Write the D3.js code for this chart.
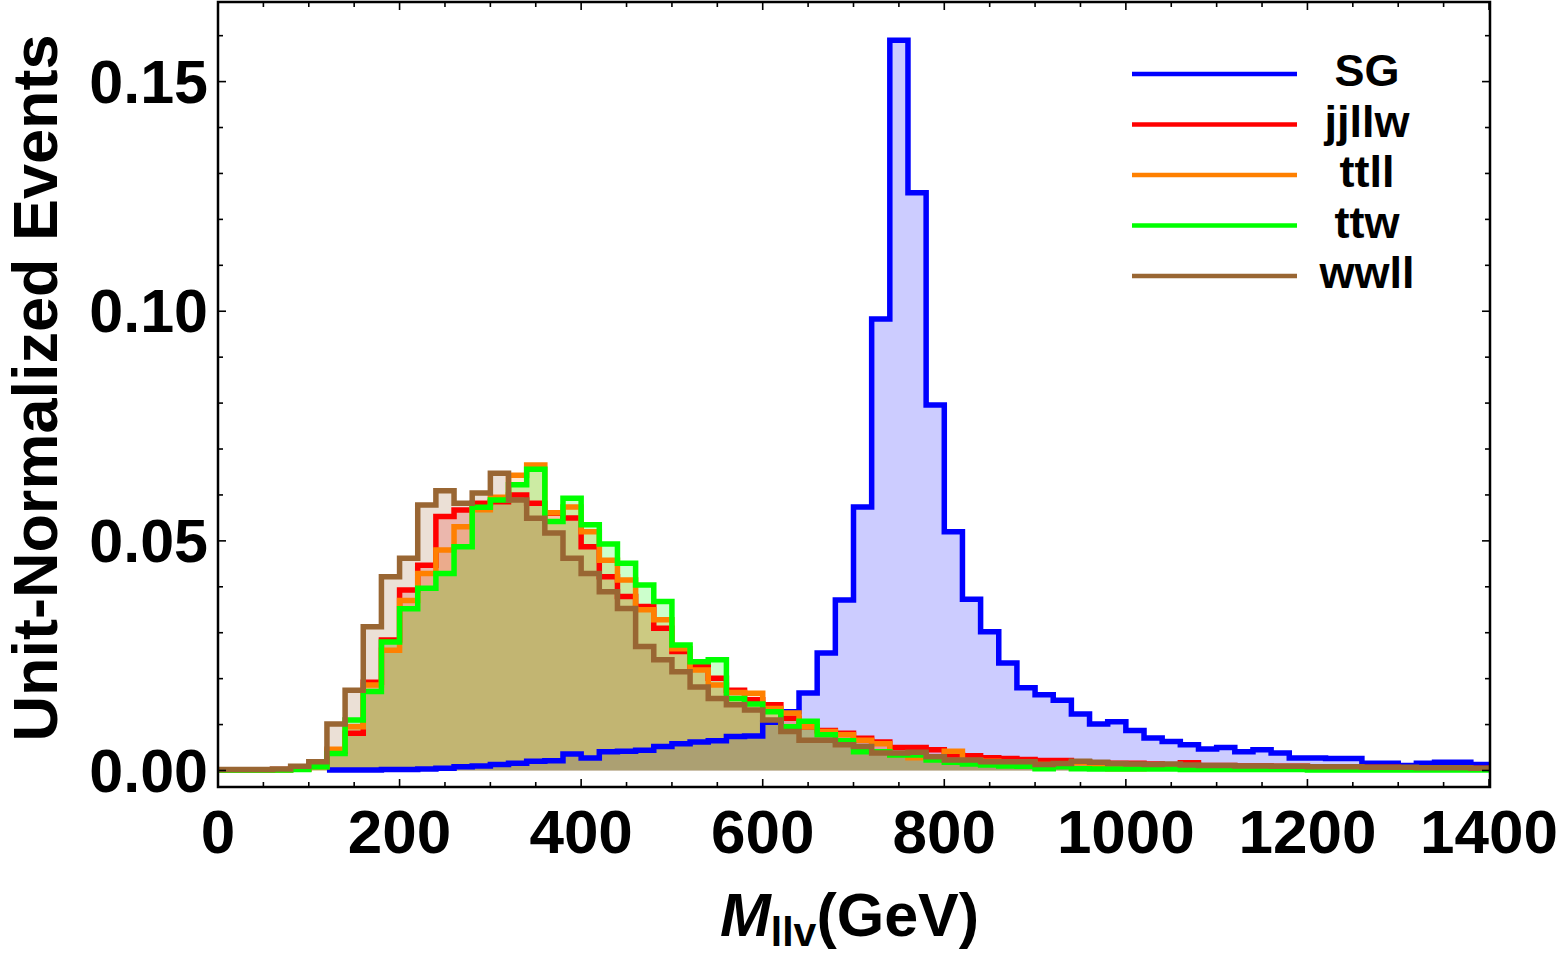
<!DOCTYPE html>
<html>
<head>
<meta charset="utf-8">
<script src="https://cdn.jsdelivr.net/npm/d3@7"></script>
<style>
  body { margin: 0; background: #fff; }
  text { font-family: "Liberation Sans", Arial, sans-serif; font-weight: bold; }
</style>
</head>
<body>
<div id="chart-area"></div>
<script>
/*
*    M_llv histograms
*/
var binWidth = 20;
var binStarts = d3.range(0, 1400, binWidth);

var sgValues = [null, null, null, null, null, null,
  0.0001, 0.0001, 0.0001, 0.0002, 0.0002, 0.0003, 0.0005, 0.0008, 0.0010, 0.0013,
  0.0016, 0.0020, 0.0021, 0.0036, 0.0027, 0.0041, 0.0042, 0.0044, 0.0052, 0.0058,
  0.0062, 0.0065, 0.0074, 0.0075, 0.0105, 0.0128, 0.0169, 0.0256, 0.0371, 0.0574,
  0.0983, 0.1590, 0.1258, 0.0796, 0.0520, 0.0373, 0.0302, 0.0234, 0.0180, 0.0165,
  0.0153, 0.0123, 0.0101, 0.0106, 0.0087, 0.0071, 0.0063, 0.0056, 0.0047, 0.0050,
  0.0041, 0.0045, 0.0038, 0.0027, 0.0027, 0.0026, 0.0026, 0.0016, 0.0016, 0.0011,
  0.0016, 0.0018, 0.0018, 0.0013];

var jjllwValues = [0.0001, 0.0001, 0.0001, 0.0002, 0.0004, 0.0011,
  0.0042, 0.0081, 0.0192, 0.0284, 0.0393, 0.0447, 0.0553, 0.0567, 0.0582, 0.0585,
  0.0600, 0.0582, 0.0560, 0.0550, 0.0487, 0.0422, 0.0379, 0.0357, 0.0310, 0.0259,
  0.0226, 0.0201, 0.0175, 0.0154, 0.0143, 0.0114, 0.0095, 0.0087, 0.0081, 0.0070,
  0.0062, 0.0050, 0.0050, 0.0045, 0.0034, 0.0032, 0.0028, 0.0026, 0.0024, 0.0022,
  0.0022, 0.0019, 0.0017, 0.0016, 0.0016, 0.0014, 0.0012, 0.0017, 0.0011, 0.0011,
  0.0010, 0.0010, 0.0009, 0.0009, 0.0008, 0.0008, 0.0007, 0.0007, 0.0007, 0.0006,
  0.0006, 0.0006, 0.0005, 0.0005];

var ttllValues = [0.0001, 0.0001, 0.0001, 0.0001, 0.0003, 0.0008,
  0.0046, 0.0095, 0.0186, 0.0262, 0.0370, 0.0429, 0.0480, 0.0531, 0.0568, 0.0595,
  0.0643, 0.0665, 0.0561, 0.0574, 0.0520, 0.0458, 0.0415, 0.0350, 0.0328, 0.0265,
  0.0219, 0.0186, 0.0170, 0.0168, 0.0135, 0.0125, 0.0095, 0.0085, 0.0078, 0.0066,
  0.0058, 0.0035, 0.0028, 0.0030, 0.0042, 0.0022, 0.0020, 0.0018, 0.0016, 0.0013,
  0.0012, 0.0017, 0.0010, 0.0004, 0.0004, 0.0009, 0.0008, 0.0008, 0.0007, 0.0007,
  0.0007, 0.0006, 0.0006, 0.0006, 0.0005, 0.0005, 0.0005, 0.0005, 0.0004, 0.0004,
  0.0004, 0.0004, 0.0004, 0.0004];

var ttwValues = [0.0001, 0.0001, 0.0001, 0.0001, 0.0002, 0.0008,
  0.0037, 0.0110, 0.0172, 0.0280, 0.0352, 0.0397, 0.0429, 0.0487, 0.0573, 0.0589,
  0.0622, 0.0656, 0.0542, 0.0593, 0.0535, 0.0493, 0.0451, 0.0404, 0.0368, 0.0273,
  0.0237, 0.0241, 0.0157, 0.0145, 0.0128, 0.0095, 0.0107, 0.0078, 0.0065, 0.0041,
  0.0041, 0.0034, 0.0034, 0.0023, 0.0018, 0.0014, 0.0012, 0.0010, 0.0009, 0.0004,
  0.0008, 0.0004, 0.0003, 0.0003, 0.0003, 0.0003, 0.0003, 0.0002, 0.0002, 0.0002,
  0.0002, 0.0002, 0.0002, 0.0002, 0.0001, 0.0001, 0.0001, 0.0001, 0.0001, 0.0001,
  0.0001, 0.0001, 0.0001, 0.0001];

var wwllValues = [0.0002, 0.0002, 0.0002, 0.0003, 0.0009, 0.0019,
  0.0101, 0.0175, 0.0313, 0.0422, 0.0462, 0.0578, 0.0609, 0.0582, 0.0604, 0.0647,
  0.0589, 0.0549, 0.0517, 0.0462, 0.0429, 0.0389, 0.0353, 0.0270, 0.0241, 0.0215,
  0.0182, 0.0157, 0.0143, 0.0132, 0.0110, 0.0085, 0.0066, 0.0066, 0.0056, 0.0052,
  0.0038, 0.0038, 0.0040, 0.0030, 0.0023, 0.0023, 0.0019, 0.0019, 0.0019, 0.0013,
  0.0015, 0.0020, 0.0018, 0.0015, 0.0014, 0.0013, 0.0014, 0.0012, 0.0011, 0.0011,
  0.0010, 0.0010, 0.0009, 0.0009, 0.0008, 0.0008, 0.0008, 0.0007, 0.0007, 0.0007,
  0.0006, 0.0006, 0.0006, 0.0005];

var seriesNames = ["SG", "jjllw", "ttll", "ttw", "wwll"];
var seriesColors = ["#0000ff", "#ff0000", "#ff8000", "#00ff00", "#996633"];
var seriesValues = [sgValues, jjllwValues, ttllValues, ttwValues, wwllValues];

var xTicks = [0, 200, 400, 600, 800, 1000, 1200, 1400];
var yTicks = [0.00, 0.05, 0.10, 0.15];

var svg = d3.select("#chart-area")
  .append("svg")
  .attr("width", 1563)
  .attr("height", 963);

var frame = { left: 218, right: 1490, top: 2, bottom: 787 };

var x = d3.scaleLinear().domain([0, 1400]).range([218, 1489]);
var y = d3.scaleLinear().domain([0, 0.15]).range([770.5, 81.6]);

svg.append("clipPath")
  .attr("id", "plot-clip")
  .append("rect")
  .attr("x", frame.left)
  .attr("y", frame.top)
  .attr("width", frame.right - frame.left)
  .attr("height", frame.bottom - frame.top);

function toPoints(values) {
  var pts = [];
  values.forEach(function(v, i) {
    if (v !== null) pts.push([binStarts[i], v]);
  });
  var last = pts[pts.length - 1];
  pts.push([last[0] + binWidth, last[1]]);
  return pts;
}

var area = d3.area()
  .curve(d3.curveStepAfter)
  .x(function(d) { return x(d[0]); })
  .y0(y(0))
  .y1(function(d) { return y(d[1]); });

var line = d3.line()
  .curve(d3.curveStepAfter)
  .x(function(d) { return x(d[0]); })
  .y(function(d) { return y(d[1]); });

var plot = svg.append("g").attr("clip-path", "url(#plot-clip)");

// fills first, then outlines, in the series order
seriesValues.forEach(function(vals, i) {
  plot.append("path")
    .attr("d", area(toPoints(vals)))
    .attr("fill", seriesColors[i])
    .attr("fill-opacity", 0.2)
    .attr("stroke", "none");
});

seriesValues.forEach(function(vals, i) {
  plot.append("path")
    .attr("d", line(toPoints(vals)))
    .attr("fill", "none")
    .attr("stroke", seriesColors[i])
    .attr("stroke-width", 5.5)
    .attr("stroke-linejoin", "miter");
});

// frame
svg.append("rect")
  .attr("x", frame.left)
  .attr("y", frame.top)
  .attr("width", frame.right - frame.left)
  .attr("height", frame.bottom - frame.top)
  .attr("fill", "none")
  .attr("stroke", "black")
  .attr("stroke-width", 2.5);

// ticks, inward on all four sides
var xMinor = d3.range(0, 1401, 50);
var yMinor = d3.range(0, 0.1651, 0.01);

xMinor.forEach(function(t) {
  var major = t % 200 === 0;
  var len = major ? 8 : 5;
  svg.append("line")
    .attr("x1", x(t)).attr("x2", x(t))
    .attr("y1", frame.bottom).attr("y2", frame.bottom - len)
    .attr("stroke", "black").attr("stroke-width", 1.6);
  svg.append("line")
    .attr("x1", x(t)).attr("x2", x(t))
    .attr("y1", frame.top).attr("y2", frame.top + len)
    .attr("stroke", "black").attr("stroke-width", 1.6);
});

yMinor.forEach(function(t, i) {
  var major = i % 5 === 0;
  var len = major ? 8 : 5;
  svg.append("line")
    .attr("x1", frame.left).attr("x2", frame.left + len)
    .attr("y1", y(t)).attr("y2", y(t))
    .attr("stroke", "black").attr("stroke-width", 1.6);
  svg.append("line")
    .attr("x1", frame.right).attr("x2", frame.right - len)
    .attr("y1", y(t)).attr("y2", y(t))
    .attr("stroke", "black").attr("stroke-width", 1.6);
});

// tick labels
svg.selectAll(".xlabel")
  .data(xTicks)
  .enter().append("text")
  .attr("class", "xlabel")
  .attr("x", function(d) { return x(d); })
  .attr("y", 853)
  .attr("text-anchor", "middle")
  .attr("font-size", "62px")
  .text(function(d) { return d; });

svg.selectAll(".ylabel")
  .data(yTicks)
  .enter().append("text")
  .attr("class", "ylabel")
  .attr("x", 208)
  .attr("y", function(d) { return y(d) + 21; })
  .attr("text-anchor", "end")
  .attr("font-size", "61px")
  .text(function(d) { return d3.format(".2f")(d); });

// axis titles
svg.append("text")
  .attr("transform", "translate(57,388) rotate(-90)")
  .attr("text-anchor", "middle")
  .attr("font-size", "63px")
  .text("Unit-Normalized Events");

var xt = svg.append("text")
  .attr("x", 720)
  .attr("y", 936)
  .attr("font-size", "61px");
xt.append("tspan").attr("font-style", "italic").text("M");
xt.append("tspan").attr("font-size", "41px").attr("dy", 10).text("llv");
xt.append("tspan").attr("dy", -10).text("(GeV)");

// legend
seriesNames.forEach(function(name, i) {
  var ly = 74 + i * 50.5;
  svg.append("line")
    .attr("x1", 1132).attr("x2", 1297)
    .attr("y1", ly).attr("y2", ly)
    .attr("stroke", seriesColors[i])
    .attr("stroke-width", 4.5);
  svg.append("text")
    .attr("x", 1367)
    .attr("y", ly + 12)
    .attr("text-anchor", "middle")
    .attr("font-size", "45px")
    .text(name);
});
</script>
</body>
</html>
